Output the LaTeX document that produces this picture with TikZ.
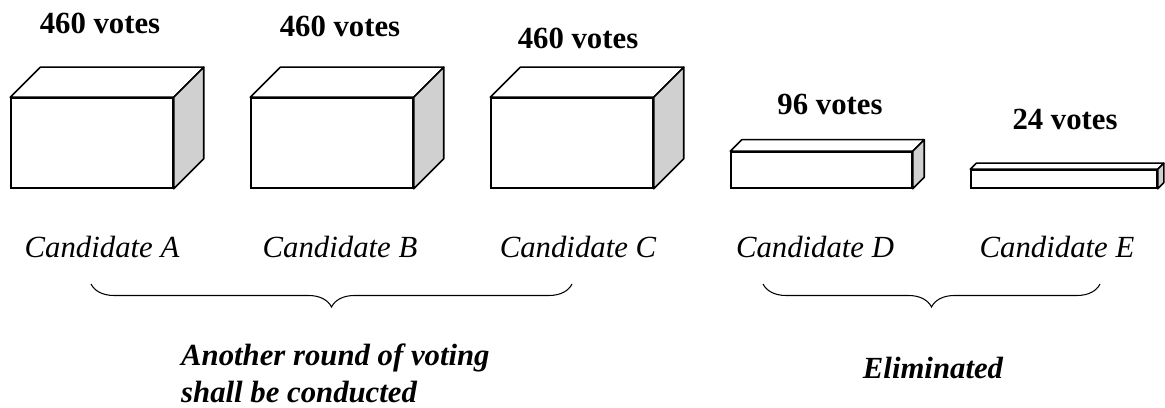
\documentclass[tikz,border=0pt]{standalone}
\usepackage{fontspec}
\setmainfont{LiberationSerif}[Extension=.ttf, UprightFont=*-Regular, BoldFont=*-Bold, ItalicFont=*-Italic, BoldItalicFont=*-BoldItalic]
\usepackage{xcolor}
\usetikzlibrary{positioning,calc,decorations.pathreplacing}

\definecolor{sidegray}{RGB}{208,208,208}

% top and side faces of a box drawn on its front node
\newcommand{\boxfaces}[2]{%
  \draw[face, fill=white] (#1.north west) -- ++(#2,#2) -- ($(#1.north east)+(#2,#2)$) -- (#1.north east) -- cycle;
  \draw[face, fill=sidegray] (#1.north east) -- ++(#2,#2) -- ($(#1.south east)+(#2,#2)$) -- (#1.south east) -- cycle;}

\begin{document}
\begin{tikzpicture}[
    x=0.02cm, y=0.02cm,
    front/.style={rectangle, draw, line width=0.9pt, fill=white, inner sep=0pt},
    face/.style={line width=0.9pt, line join=round},
    votes/.style={font=\fontsize{17.5}{21}\selectfont\bfseries},
    cand/.style={font=\fontsize{17.5}{21}\selectfont\itshape},
    result/.style={font=\fontsize{17.5}{21}\selectfont\bfseries\itshape, align=left},
    curly/.style={decorate, decoration={brace, mirror, amplitude=0.46cm}, line width=0.6pt}
]
    \useasboundingbox (0,0) rectangle (1165,408);

    % boxes
    \node[front, minimum width=3.24cm, minimum height=1.8cm] (boxA) at (92,265) {};
    \boxfaces{boxA}{30}
    \node[front, minimum width=3.24cm, minimum height=1.8cm] (boxB) at (332,265) {};
    \boxfaces{boxB}{30}
    \node[front, minimum width=3.24cm, minimum height=1.8cm] (boxC) at (572,265) {};
    \boxfaces{boxC}{30}
    \node[front, minimum width=3.62cm, minimum height=0.72cm] (boxD) at (821.5,238) {};
    \boxfaces{boxD}{11.5}
    \node[front, minimum width=3.72cm, minimum height=0.36cm] (boxE) at (1064,229) {};
    \boxfaces{boxE}{6}

    % vote counts
    \node[votes] (votesA) at (100,385) {460 votes};
    \node[votes] (votesB) at (340,382) {460 votes};
    \node[votes] (votesC) at (578,370) {460 votes};
    \node[votes] (votesD) at (830,304) {96 votes};
    \node[votes] (votesE) at (1065,289) {24 votes};

    % candidates
    \node[cand] (candA) at (102,161) {Candidate A};
    \node[cand] (candB) at (340,161) {Candidate B};
    \node[cand] (candC) at (578,161) {Candidate C};
    \node[cand] (candD) at (815,161) {Candidate D};
    \node[cand] (candE) at (1057,161) {Candidate E};

    % braces
    \coordinate (keepL) at (91,124);
    \coordinate (keepR) at (572,124);
    \coordinate (outL) at (763,124);
    \coordinate (outR) at (1100,124);
    \draw[curly] (keepL) -- (keepR);
    \draw[curly] (outL) -- (outR);

    \node[result, anchor=west] (again) at (175,35) {Another round of voting\\shall be conducted};
    \node[result] (out) at (933,40) {Eliminated};
\end{tikzpicture}
\end{document}
